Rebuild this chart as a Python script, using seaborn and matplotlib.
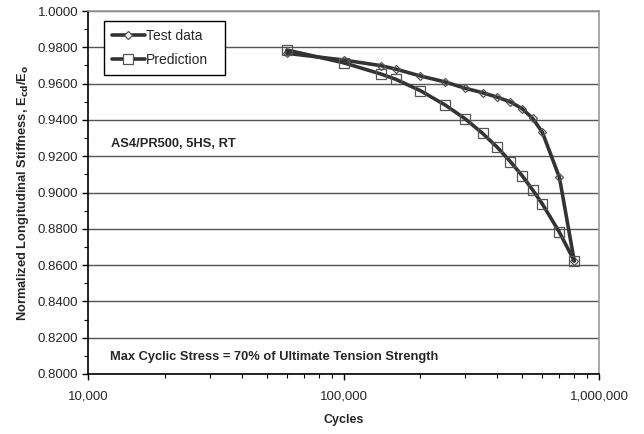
import matplotlib
matplotlib.use("Agg")
import matplotlib.pyplot as plt
import matplotlib.ticker as mticker
from matplotlib.lines import Line2D
import seaborn as sns
import pandas as pd
import numpy as np

cycles = [60000, 100000, 140000, 160000, 200000, 250000, 300000, 350000,
          400000, 450000, 500000, 550000, 600000, 700000, 800000]
test_data = [0.9767, 0.9730, 0.9699, 0.9680, 0.9642, 0.9609, 0.9574, 0.9550,
             0.9525, 0.9499, 0.9462, 0.9409, 0.9332, 0.9083, 0.8623]
prediction = [0.9785, 0.9715, 0.9653, 0.9624, 0.9561, 0.9482, 0.9405, 0.9326,
              0.9249, 0.9170, 0.9093, 0.9014, 0.8937, 0.8781, 0.8623]
series_names = ["Test data", "Prediction"]
y_ticks = [0.80, 0.82, 0.84, 0.86, 0.88, 0.90, 0.92, 0.94, 0.96, 0.98, 1.00]
x_tick_labels = ["10,000", "100,000", "1,000,000"]

df = pd.concat([
    pd.DataFrame({"Cycles": cycles, "Stiffness": test_data, "Series": series_names[0]}),
    pd.DataFrame({"Cycles": cycles, "Stiffness": prediction, "Series": series_names[1]}),
])

sns.set_theme(style="white")
plt.rcParams["font.family"] = ["Liberation Sans", "DejaVu Sans"]

fig = plt.figure(figsize=(6.44, 4.34), dpi=100)
ax = fig.add_axes([88 / 644, 1 - 374 / 434, (599 - 88) / 644, (374 - 11) / 434])

line_color = "#333333"
sns.lineplot(data=df, x="Cycles", y="Stiffness", hue="Series", style="Series",
             markers={"Test data": "D", "Prediction": "s"}, dashes=False,
             palette={"Test data": line_color, "Prediction": line_color},
             linewidth=2.6, ax=ax, legend=False, sort=False)

for ln, ms in zip(ax.get_lines(), [4.5, 6.5]):
    ln.set_markerfacecolor("none")
    ln.set_markeredgecolor("#555555")
    ln.set_markeredgewidth(0.9)
    ln.set_markersize(ms)

ax.set_xscale("log")
ax.set_xlim(10000, 1000000)
ax.set_ylim(0.80, 1.00)
ax.set_yticks(y_ticks)
ax.yaxis.set_major_formatter(mticker.FormatStrFormatter("%.4f"))
ax.yaxis.set_minor_locator(mticker.MultipleLocator(0.01))
ax.set_xticks([10000, 100000, 1000000])
ax.set_xticklabels(x_tick_labels)
ax.xaxis.set_minor_locator(mticker.LogLocator(base=10, subs=np.arange(2, 10)))
ax.xaxis.set_minor_formatter(mticker.NullFormatter())

ax.tick_params(axis="both", which="major", direction="out", length=4, width=1,
               color="black", labelsize=9.5, pad=3)
ax.tick_params(axis="both", which="minor", direction="out", length=3, width=0.8,
               color="black")
ax.tick_params(axis="x", which="both", bottom=True)
ax.tick_params(axis="y", which="both", left=True)
ax.tick_params(axis="x", which="major", pad=8)

ax.grid(axis="y", which="major", color="#555555", linewidth=1.0)
ax.grid(axis="x", visible=False)
ax.set_axisbelow(True)

for side in ["left", "bottom"]:
    ax.spines[side].set_color("black")
    ax.spines[side].set_linewidth(1.2)
for side in ["top", "right"]:
    ax.spines[side].set_color("#9a9a9a")
    ax.spines[side].set_linewidth(1.2)

ax.set_xlabel("Cycles", fontsize=9, fontweight="bold", labelpad=8)
ax.set_ylabel(r"Normalized Longitudinal Stiffness, E$_{\mathbf{cd}}$/E$_{\mathbf{o}}$",
              fontsize=9.3, fontweight="bold", labelpad=5)

ax.text(0.045, 0.633, "AS4/PR500, 5HS, RT", transform=ax.transAxes,
        fontsize=9.3, fontweight="bold", va="center", ha="left")
ax.text(0.043, 0.047, "Max Cyclic Stress = 70% of Ultimate Tension Strength",
        transform=ax.transAxes, fontsize=9.3, fontweight="bold", va="center", ha="left")

handles = [
    Line2D([], [], color=line_color, linewidth=2.6, marker="D", markersize=4.5,
           markerfacecolor="white", markeredgecolor="#555555", markeredgewidth=0.9),
    Line2D([], [], color=line_color, linewidth=2.6, marker="s", markersize=6.5,
           markerfacecolor="white", markeredgecolor="#555555", markeredgewidth=0.9),
]
x0 = (104 - 88) / 511
y1 = (374 - 21) / 363
w = (225 - 104) / 511
h = (74 - 21) / 363
leg = ax.legend(handles, series_names, loc="upper left",
                bbox_to_anchor=(x0, y1 - h, w, h), mode="expand",
                frameon=True, fancybox=False, framealpha=1, edgecolor="black",
                fontsize=10, handlelength=2.4, handletextpad=0.1, borderpad=0.55,
                labelspacing=0.75, borderaxespad=0)
leg.get_frame().set_linewidth(1.0)

fig.savefig("out.png", dpi=100)
